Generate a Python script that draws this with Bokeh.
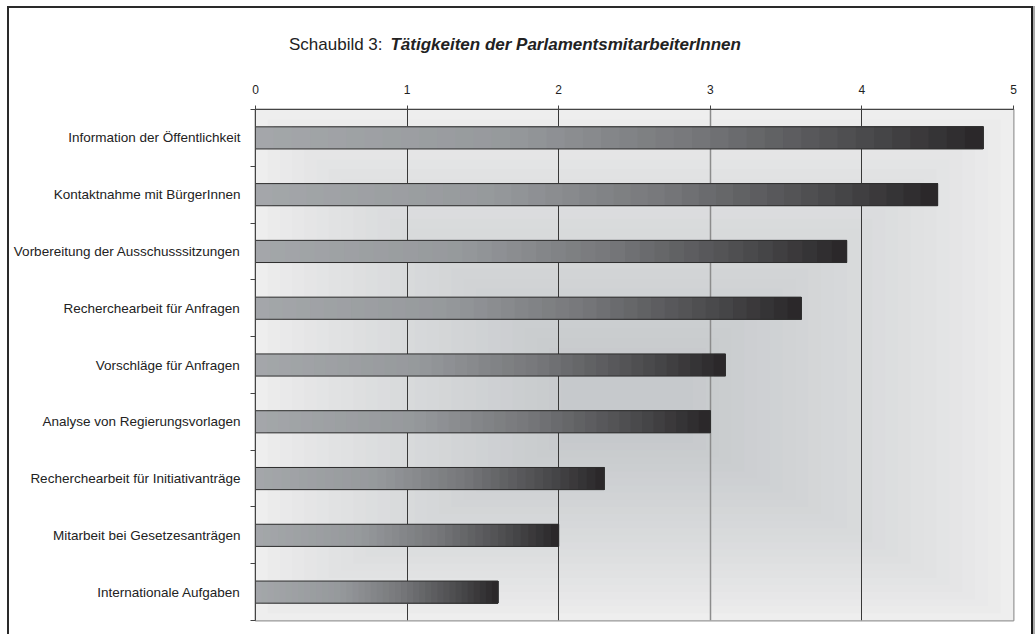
from bokeh.plotting import figure
from bokeh.layouts import column
from bokeh.models import Range1d, FixedTicker, Grid
from bokeh.core.properties import value
from bokeh.embed import file_html
from bokeh.resources import INLINE

categories = [
    "Information der Öffentlichkeit",
    "Kontaktnahme mit BürgerInnen",
    "Vorbereitung der Ausschusssitzungen",
    "Recherchearbeit für Anfragen",
    "Vorschläge für Anfragen",
    "Analyse von Regierungsvorlagen",
    "Recherchearbeit für Initiativanträge",
    "Mitarbeit bei Gesetzesanträgen",
    "Internationale Aufgaben",
]
values = [4.8, 4.5, 3.9, 3.6, 3.1, 3.0, 2.3, 2.0, 1.6]
x_ticks = [0, 1, 2, 3, 4, 5]
title_plain = "Schaubild 3:"
title_bold = "Tätigkeiten der ParlamentsmitarbeiterInnen"

FONT = "Liberation Sans"
n = len(categories)
centers = [n - i - 0.5 for i in range(n)]
boundaries = list(range(n + 1))
xmax = x_ticks[-1]

W = 1022
T = 60
H = 566

# ---- main chart ----
p = figure(width=W, height=H, x_range=Range1d(0, xmax), y_range=Range1d(0, n),
           output_backend="svg", toolbar_location=None, x_axis_location="above",
           min_border_left=246, min_border_right=18, min_border_top=41,
           min_border_bottom=14)
p.background_fill_color = "#eeeeee"
p.border_fill_color = "white"
p.outline_line_color = "#999999"
p.outline_line_width = 2

# ---- title strip (own small figure sharing the x scale; text stays SVG text) ----
tf = figure(width=W, height=T, x_range=p.x_range, y_range=Range1d(0, T),
            output_backend="svg", toolbar_location=None, min_border=0,
            x_axis_location=None, y_axis_location=None)
tf.title = None
tf.outline_line_color = None
tf.background_fill_color = "white"
tf.border_fill_color = "white"
tf.grid.grid_line_color = None
tf.text(x=[0.838], y=[24.5], text=[title_plain], text_align="right",
        text_baseline="alphabetic", text_font=value(FONT), text_font_size="17px",
        text_color="#222222")
tf.text(x=[0.89], y=[24.5], text=[title_bold], text_align="left",
        text_baseline="alphabetic", text_font=value(FONT), text_font_size="17px",
        text_font_style="bold italic", text_color="#222222")


def lerp(a, b, t):
    return a + (b - a) * t


def hexc(rgb):
    return "#%02x%02x%02x" % tuple(int(round(c)) for c in rgb)


# background: concentric gradient
cx, cy = 2.45, 3.85
steps = 26
bl, br, bb, bt, bc = [], [], [], [], []
c_out = (238, 238, 238)
c_in = (197, 200, 203)
for i in range(steps):
    t = i / steps
    bl.append(lerp(0, cx - 0.35, t))
    br.append(lerp(xmax, cx + 0.35, t))
    bb.append(lerp(0, cy - 0.6, t))
    bt.append(lerp(n, cy + 0.6, t))
    tt = t ** 0.8
    bc.append(hexc([lerp(c_out[k], c_in[k], tt) for k in range(3)]))
p.quad(left=bl, right=br, bottom=bb, top=bt, fill_color=bc, line_color=None, level="image")

# bars with horizontal gradient
stops = [(0.0, (164, 167, 170)), (0.35, (150, 153, 156)), (0.6, (118, 119, 122)),
         (0.85, (72, 72, 74)), (1.0, (40, 37, 39))]


def grad(t):
    for (t0, c0), (t1, c1) in zip(stops[:-1], stops[1:]):
        if t <= t1:
            u = (t - t0) / (t1 - t0)
            return hexc([lerp(c0[k], c1[k], u) for k in range(3)])
    return hexc(stops[-1][1])


bh = 0.195
seg = 40
gl, gr, gb, gt, gc = [], [], [], [], []
for v, yc in zip(values, centers):
    for k in range(seg):
        gl.append(v * k / seg)
        gr.append(v)
        gb.append(yc - bh)
        gt.append(yc + bh)
        gc.append(grad((k + 0.5) / seg))
p.quad(left=gl, right=gr, bottom=gb, top=gt, fill_color=gc, line_color=None)
p.quad(left=[0] * n, right=values, bottom=[c - bh for c in centers],
       top=[c + bh for c in centers], fill_color=None, line_color="#2e2e2e", line_width=1)

# grid: most lines dark, the one at 3 lighter as in the print
p.xgrid.ticker = FixedTicker(ticks=[t for t in x_ticks if t != 3])
p.xgrid.grid_line_color = "#383838"
p.xgrid.grid_line_width = 1
p.ygrid.grid_line_color = None
p.add_layout(Grid(dimension=0, ticker=FixedTicker(ticks=[3]), grid_line_color="#8c8c8c",
                  grid_line_width=1.5))

# x axis (top)
xa = p.xaxis[0]
xa.ticker = FixedTicker(ticks=x_ticks)
xa.axis_line_color = "#444444"
xa.major_tick_line_color = "#444444"
xa.major_tick_out = 4
xa.major_tick_in = 0
xa.minor_tick_out = 0
xa.major_label_standoff = 12
xa.major_label_text_font = FONT
xa.major_label_text_font_size = "12px"
xa.major_label_text_color = "#222222"

# y axis (left)
ya = p.yaxis[0]
ya.ticker = FixedTicker(ticks=centers, minor_ticks=boundaries)
ya.major_label_overrides = {c: name for c, name in zip(centers, categories)}
ya.axis_line_color = "#444444"
ya.major_tick_out = 0
ya.major_tick_in = 0
ya.minor_tick_out = 5
ya.minor_tick_in = 0
ya.minor_tick_line_color = "#444444"
ya.major_label_standoff = 10
ya.major_label_text_font = FONT
ya.major_label_text_font_size = "13.5px"
ya.major_label_text_color = "#222222"

layout = column(tf, p, spacing=0)
layout.styles = {"border-top": "2px solid #2a2a2a", "border-left": "2px solid #2a2a2a",
                 "border-right": "2px solid #1a1a1a", "box-shadow": "3px 0px 0px #aaaaaa",
                 "margin-left": "7px", "margin-top": "6px"}

open("out.html", "w").write(file_html(layout, INLINE))
